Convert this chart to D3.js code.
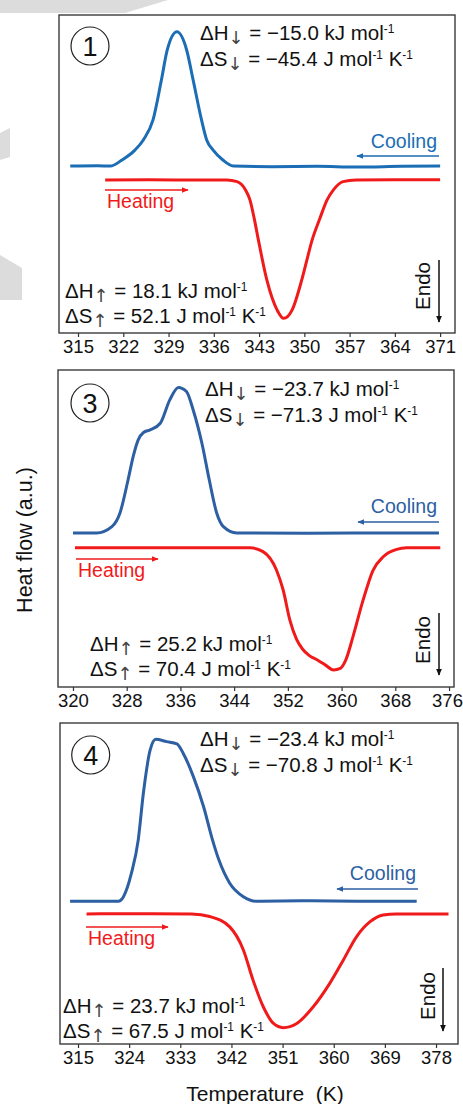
<!DOCTYPE html>
<html>
<head>
<meta charset="utf-8">
<script src="https://cdn.jsdelivr.net/npm/d3@7"></script>
<style>
  body { margin: 0; background: #fff; }
  text { font-family: "Liberation Sans", Arial, sans-serif; white-space: pre; }
</style>
</head>
<body>
<svg id="chart" width="463" height="1104"></svg>
<script>
// ---- data (temperature K, heat flow a.u.) ----
const coolT1  = [313.8, 318, 320, 321.8, 323.8, 325.1, 326.6, 327.9, 328.8, 330.3, 331.8, 332.8, 334.1, 334.9, 335.9, 337.4, 339, 345, 352, 358, 365, 371];
const coolHF1 = [52.5, 52.6, 52.5, 54.4, 57.5, 60.7, 67, 79.6, 89, 94.7, 89, 79.6, 67, 60.7, 57.5, 54.4, 52.5, 52.3, 52.4, 52.2, 52.4, 52.5];
const heatT1  = [319.2, 326, 333, 338, 339.6, 340.9, 341.6, 342.3, 342.9, 344.2, 345.8, 346.8, 348.1, 349.6, 350.4, 351.2, 352.4, 353.5, 354.5, 356, 358, 364, 371];
const heatHF1 = [48.1, 48.2, 48.1, 48.1, 47.6, 45, 41.8, 35.5, 29.2, 16.7, 7.2, 4.6, 7.2, 16.7, 23, 29.2, 36, 41.8, 45, 47.6, 48.1, 48.2, 48.2];

const coolT3  = [320, 323.5, 325.8, 327, 328.2, 329, 329.7, 330.5, 331.5, 333, 334.4, 335.7, 336.9, 337.9, 339.2, 340.3, 341.4, 342.4, 344.4, 355, 365, 374.5];
const coolHF3 = [48.6, 48.6, 50.6, 54.9, 65.3, 73, 77.9, 80.3, 81.1, 83.2, 90.5, 94.5, 93.2, 87.4, 76.9, 65.3, 54.9, 50.6, 48.6, 48.5, 48.6, 48.6];
const heatT3  = [320.3, 330, 340, 346.4, 348.3, 350.3, 351.3, 352.3, 353.3, 354.2, 355.2, 356.4, 357.6, 358.8, 359.8, 360.6, 361.7, 363.2, 364.7, 366.2, 368.2, 369.7, 374.7];
const heatHF3 = [43.9, 43.9, 43.9, 43.9, 42.7, 36.9, 30.6, 21.1, 15, 11.9, 9.9, 8.5, 6.9, 5.4, 5.9, 8.4, 15.9, 27.4, 36.9, 41.1, 43.4, 43.9, 43.9];

const coolT4  = [313.6, 318, 322.1, 323, 324.4, 325.6, 326.5, 327.7, 328.7, 330.6, 332.4, 333.5, 335.3, 337.1, 338.6, 339.8, 341.7, 344.1, 346.4, 355, 365, 374.6];
const coolHF4 = [44.5, 44.5, 44.5, 45.9, 53.2, 63.6, 78.1, 91.6, 94.9, 94.2, 93.5, 90.6, 83.3, 73.9, 64, 57.3, 50.1, 45.9, 44.5, 44.6, 44.5, 44.5];
const heatT4  = [316.5, 325, 335, 338.2, 341.7, 344.1, 345.8, 347.6, 349.4, 351.1, 353.5, 356.4, 359.3, 361.7, 364, 366.4, 368.7, 371, 380.2];
const heatHF4 = [40.5, 40.6, 40.5, 39.7, 36.5, 29.3, 19.9, 11.6, 6.4, 5.1, 6.4, 11.6, 18.9, 26.2, 33.4, 38.1, 40.2, 40.5, 40.5];

const ticks1 = [315, 322, 329, 336, 343, 350, 357, 364, 371];
const ticks3 = [320, 328, 336, 344, 352, 360, 368, 376];
const ticks4 = [315, 324, 333, 342, 351, 360, 369, 378];

const panelNames = ["1", "3", "4"];
const dHcool = ["\u221215.0", "\u221223.7", "\u221223.4"];
const dScool = ["\u221245.4", "\u221271.3", "\u221270.8"];
const dHheat = ["18.1", "25.2", "23.7"];
const dSheat = ["52.1", "70.4", "67.5"];

// ---- layout ----
const svg = d3.select("#chart");
const blue1 = "#1b6db5", blue2 = "#2d5fa3", red = "#f01a1a";

const panels = [
  { name: panelNames[0], cT: coolT1, cH: coolHF1, hT: heatT1, hH: heatHF1, ticks: ticks1,
    box: [59, 455, 15, 333], dom: [312.06, 373.3], blue: blue1,
    circ: [90, 46], top: [200, 40], cool: [437, 148, 156, 357], heat: [107, 208, 190, 188],
    bot: [65, 298], endo: [423, 286, 439, 260, 322] },
  { name: panelNames[1], cT: coolT3, cH: coolHF3, hT: heatT3, hH: heatHF3, ticks: ticks3,
    box: [58, 454, 370, 687], dom: [317.77, 376.74], blue: blue2,
    circ: [90, 403], top: [205, 396], cool: [437, 513, 522, 358], heat: [78, 577, 559, 158],
    bot: [90, 651], endo: [423, 640, 439, 613, 675] },
  { name: panelNames[2], cT: coolT4, cH: coolHF4, hT: heatT4, hH: heatHF4, ticks: ticks4,
    box: [60, 458, 723, 1044], dom: [311.83, 381.87], blue: blue2,
    circ: [90.7, 755], top: [200, 746], cool: [416, 880, 889, 337], heat: [88, 945, 927, 168],
    bot: [63, 1013], endo: [428, 996, 443, 968, 1031] }
];

// faint watermark pieces behind the figure
const wm = svg.append("g").attr("fill", "#dcdcdc");
wm.append("polygon").attr("points", "0,0 168,0 125,13 0,13");
wm.append("polygon").attr("points", "0,133 10,128 10,157 0,160");
wm.append("polygon").attr("points", "0,255 22,268 22,300 0,300");

const defs = svg.append("defs");
function marker(id, color) {
  defs.append("marker").attr("id", id).attr("viewBox", "0 0 10 10")
    .attr("refX", 9).attr("refY", 5).attr("markerWidth", 7).attr("markerHeight", 6)
    .attr("orient", "auto-start-reverse").attr("markerUnits", "userSpaceOnUse")
    .attr("preserveAspectRatio", "none")
    .append("path").attr("d", "M0,0 L10,5 L0,10 Z").attr("fill", color);
}
marker("mBlue1", blue1);
marker("mBlue2", blue2);
marker("mRed", red);
marker("mBlack", "#111");

// segments: plain string, {hi: ".."} raised small, {ar: ".."} arrow dropped a little
function rich(g, x, y, segs, fs) {
  const t = g.append("text").attr("x", x).attr("y", y).attr("font-size", fs).attr("fill", "#111");
  let shift = 0;
  segs.forEach(s => {
    let txt = s, want = 0, size = null, isArr = false;
    if (typeof s === "object") {
      if (s.hi) { txt = s.hi; want = -fs * 0.36; size = fs * 0.58; }
      else { txt = s.ar; want = 3.5; size = 18; isArr = true; }
    }
    const ts = t.append("tspan").text(txt);
    if (size) ts.attr("font-size", size);
    if (isArr) ts.attr("font-family", "'DejaVu Sans', sans-serif").attr("fill", "#444");
    if (want !== shift) ts.attr("dy", want - shift);
    shift = want;
  });
  return t;
}

const fs = 20.5;
panels.forEach((p, i) => {
  const [x0, x1, y0, y1] = p.box;
  const x = d3.scaleLinear().domain(p.dom).range([x0, x1]);
  const y = d3.scaleLinear().domain([0, 100]).range([y1, y0]);
  const g = svg.append("g");

  g.append("rect").attr("x", x0).attr("y", y0).attr("width", x1 - x0).attr("height", y1 - y0)
    .attr("fill", "#fff").attr("stroke", "#3a3a3a").attr("stroke-width", 1.4);

  const ax = g.append("g").attr("transform", `translate(0,${y1})`)
    .call(d3.axisBottom(x).tickValues(p.ticks).tickSize(4).tickPadding(3).tickFormat(d3.format("d")));
  ax.select(".domain").remove();
  ax.selectAll(".tick line").attr("stroke", "#333").attr("stroke-width", 1.2);
  ax.selectAll(".tick text").attr("font-size", 18.5).attr("fill", "#111")
    .attr("font-family", "'Liberation Sans', Arial, sans-serif")
    .attr("dx", d => x(d) + 15 > 462 ? 462 - 15 - x(d) : 0);

  const line = d3.line().x(d => x(d[0])).y(d => y(d[1])).curve(d3.curveMonotoneX);
  g.append("path").datum(p.cT.map((t, k) => [t, p.cH[k]])).attr("d", line)
    .attr("fill", "none").attr("stroke", p.blue).attr("stroke-width", 3).attr("stroke-linejoin", "round");
  g.append("path").datum(p.hT.map((t, k) => [t, p.hH[k]])).attr("d", line)
    .attr("fill", "none").attr("stroke", red).attr("stroke-width", 3).attr("stroke-linejoin", "round");

  // panel number
  g.append("circle").attr("cx", p.circ[0]).attr("cy", p.circ[1]).attr("r", 19)
    .attr("fill", "#fff").attr("stroke", "#222").attr("stroke-width", 1.2);
  g.append("text").attr("x", p.circ[0]).attr("y", p.circ[1] + 9.5).attr("text-anchor", "middle")
    .attr("font-size", 27).attr("fill", "#111").text(p.name);

  // cooling thermodynamics
  rich(g, p.top[0], p.top[1], ["\u0394H", { ar: "\u2193" }, " = " + dHcool[i] + " kJ mol", { hi: "-1" }], fs);
  rich(g, p.top[0], p.top[1] + 26, ["\u0394S", { ar: "\u2193" }, " = " + dScool[i] + " J mol", { hi: "-1" }, " K", { hi: "-1" }], fs);
  // heating thermodynamics
  rich(g, p.bot[0], p.bot[1], ["\u0394H", { ar: "\u2191" }, " = " + dHheat[i] + " kJ mol", { hi: "-1" }], fs);
  rich(g, p.bot[0], p.bot[1] + 25, ["\u0394S", { ar: "\u2191" }, " = " + dSheat[i] + " J mol", { hi: "-1" }, " K", { hi: "-1" }], fs);

  // cooling / heating labels with arrows
  const mb = i === 0 ? "mBlue1" : "mBlue2";
  g.append("text").attr("x", p.cool[0]).attr("y", p.cool[1]).attr("text-anchor", "end")
    .attr("font-size", 19.5).attr("fill", p.blue).text("Cooling");
  g.append("line").attr("x1", p.cool[0] + 2).attr("x2", p.cool[3]).attr("y1", p.cool[2]).attr("y2", p.cool[2])
    .attr("stroke", p.blue).attr("stroke-width", 1.5).attr("marker-end", `url(#${mb})`);
  g.append("text").attr("x", p.heat[0]).attr("y", p.heat[1])
    .attr("font-size", 19.5).attr("fill", red).text("Heating");
  g.append("line").attr("x1", p.heat[0] - 2).attr("x2", p.heat[3]).attr("y1", p.heat[2]).attr("y2", p.heat[2])
    .attr("stroke", red).attr("stroke-width", 1.5).attr("marker-end", "url(#mRed)");

  // endo marker
  g.append("text").attr("transform", `translate(${p.endo[0] + 7},${p.endo[1]}) rotate(-90)`)
    .attr("text-anchor", "middle").attr("font-size", 20.5).attr("fill", "#111").text("Endo");
  g.append("line").attr("x1", p.endo[2]).attr("x2", p.endo[2]).attr("y1", p.endo[3]).attr("y2", p.endo[4])
    .attr("stroke", "#111").attr("stroke-width", 1.5).attr("marker-end", "url(#mBlack)");
});

// axis titles
svg.append("text").attr("transform", "translate(32,540) rotate(-90)").attr("text-anchor", "middle")
  .attr("font-size", 21.5).attr("fill", "#111").text("Heat flow (a.u.)");
svg.append("text").attr("x", 265).attr("y", 1101).attr("text-anchor", "middle")
  .attr("font-size", 21).attr("fill", "#111").text("Temperature  (K)");
</script>
</body>
</html>
